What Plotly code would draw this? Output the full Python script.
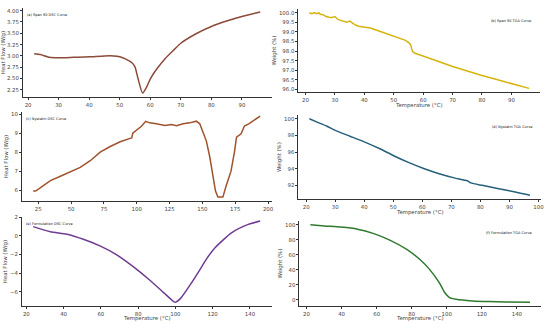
import plotly.graph_objects as go

# (a) Span 80 DSC
a_x = [22, 24, 27, 30, 35, 40, 45, 48, 50, 52, 54, 55, 56, 57.5, 59, 60, 62, 65, 68, 70, 75, 80, 85, 90, 96]
a_y = [3.05, 3.03, 2.97, 2.96, 2.97, 2.98, 3.00, 3.00, 2.98, 2.93, 2.85, 2.76, 2.50, 2.18, 2.34, 2.49, 2.70, 2.95, 3.15, 3.28, 3.49, 3.65, 3.77, 3.87, 3.97]

# (b) Span 80 TGA
b_x = [21.3, 22, 23, 24, 24.5, 25, 26, 27, 28, 29, 30, 31, 32, 33, 34, 35, 36, 37, 38, 40, 42, 44, 46, 48, 50, 52, 54, 55.3, 55.8, 56.3, 57, 58, 60, 62, 65, 70, 75, 80, 85, 90, 96.0]
b_y = [100.0, 99.95, 100.0, 99.95, 100.0, 99.92, 99.9, 99.8, 99.76, 99.75, 99.8, 99.65, 99.6, 99.55, 99.5, 99.56, 99.45, 99.36, 99.3, 99.26, 99.2, 99.1, 99.0, 98.9, 98.8, 98.7, 98.56, 98.42, 98.3, 98.0, 97.9, 97.85, 97.75, 97.65, 97.47, 97.2, 96.95, 96.73, 96.52, 96.31, 96.06]

# (c) Nystatin DSC
c_x = [21.2, 23, 26.8, 34.3, 41.9, 49.5, 57, 64.6, 72.2, 79.8, 87.4, 95, 96.2, 97, 100, 103.8, 106.8, 110, 115, 121.5, 126.5, 130.3, 135.3, 140.4, 145.4, 148, 150.5, 153, 155.5, 158, 160, 161.8, 165.6, 168, 171.8, 174.4, 176, 179.5, 182, 185.3, 188.3, 194]
c_y = [5.95, 5.95, 6.13, 6.5, 6.73, 6.95, 7.2, 7.55, 8.0, 8.3, 8.55, 8.73, 8.75, 9.0, 9.15, 9.38, 9.63, 9.55, 9.5, 9.41, 9.46, 9.4, 9.5, 9.55, 9.64, 9.5, 9.05, 8.6, 7.8, 6.75, 5.95, 5.63, 5.63, 6.2, 7.0, 8.0, 8.8, 8.97, 9.38, 9.5, 9.63, 9.91]

# (d) Nystatin TGA
d_x = [21.1, 23.75, 27.2, 30, 35.1, 40.2, 45.4, 50.5, 55.6, 60.7, 65.8, 71, 75.5, 76.7, 80.6, 86.3, 92, 97.1]
d_y = [100.0, 99.6, 99.1, 98.6, 97.9, 97.2, 96.4, 95.5, 94.7, 94.0, 93.4, 92.9, 92.55, 92.3, 92.0, 91.6, 91.2, 90.8]

# (e) Formulation DSC
e_x = [23.7, 32.9, 41.8, 50.6, 59.5, 68.3, 77.2, 86, 94.9, 99.3, 100.2, 102.8, 108.1, 112.6, 117, 121.4, 130.3, 139.1, 145.5]
e_y = [1.0, 0.46, 0.18, -0.36, -1.07, -2.0, -3.27, -4.7, -6.3, -7.07, -7.1, -6.7, -5.2, -3.8, -2.38, -1.24, 0.36, 1.24, 1.6]

# (f) Formulation TGA
f_x = [22.2, 30.3, 39.7, 49.1, 58.4, 67.8, 77.2, 84.7, 90.3, 95.9, 98.7, 101.6, 105.3, 114.7, 124, 133.4, 147.5]
f_y = [100.0, 98.5, 97.0, 94.2, 88.3, 79.4, 67.3, 53.8, 40.4, 22.4, 10.3, 3.1, 0.9, -1.3, -2.2, -2.7, -3.1]

titles = ["(a) Span 80 DSC Curve", "(b) Span 80 TGA Curve", "(c) Nystatin DSC Curve",
          "(d) Nystatin TGA Curve", "(e) Formulation DSC Curve", "(f) Formulation TGA Curve"]
y_titles = ["Heat Flow (W/g)", "Weight (%)", "Heat Flow (W/g)", "Weight (%)", "Heat Flow (W/g)", "Weight (%)"]
x_title = "Temperature (°C)"

series = [(a_x, a_y), (b_x, b_y), (c_x, c_y), (d_x, d_y), (e_x, e_y), (f_x, f_y)]
colors = ["#8b4a3a", "#d6b40c", "#a0522d", "#25607c", "#6f3b93", "#2f7a2f"]
shapes = ["spline", "linear", "linear", "spline", "spline", "spline"]

W, H = 550, 324
# pixel boxes (x0, x1, ytop, ybottom)
boxes = [(23, 273, 5, 95), (300, 543, 6, 90), (22, 273, 110, 200),
         (300, 544, 113, 198), (22, 273, 216, 306), (301, 544, 220, 306)]
xdtick = [10, 10, 25, 10, 20, 20]
ydtick = [0.25, 0.5, 1, 2, 2, 20]
yfmt = [".2f", ".1f", "d", "d", "d", "d"]
xtitle_y = [None, 103, None, 211, 318, 318]

fig = go.Figure()
font_col = "#444444"
FS = 5.4
for i, ((xs, ys), col) in enumerate(zip(series, colors)):
    n = "" if i == 0 else str(i + 1)
    fig.add_trace(go.Scatter(x=xs, y=ys, mode="lines",
                             line=dict(color=col, width=1.5, shape=shapes[i], smoothing=0.6),
                             xaxis="x" + n, yaxis="y" + n, showlegend=False))
    x0, x1, yt, yb = boxes[i]
    xmin, xmax = min(xs), max(xs)
    ymin, ymax = min(ys), max(ys)
    xm = (xmax - xmin) * 0.05
    ym = (ymax - ymin) * 0.05
    ax = dict(domain=[x0 / W, x1 / W], anchor="y" + n, range=[xmin - xm, xmax + xm],
              dtick=xdtick[i], tick0=0, showgrid=False, zeroline=False,
              showline=True, linecolor="#333333", linewidth=0.8,
              ticks="outside", ticklen=2, tickwidth=0.6, tickcolor="#333333",
              ticklabeloverflow="allow",
              tickfont=dict(size=FS, color=font_col, family="DejaVu Sans"))
    ay = dict(domain=[1 - yb / H, 1 - yt / H], anchor="x" + n, range=[ymin - ym, ymax + ym],
              dtick=ydtick[i], tick0=0, tickformat=yfmt[i], showgrid=False, zeroline=False,
              showline=True, linecolor="#333333", linewidth=0.8,
              ticks="outside", ticklen=2, tickwidth=0.6, tickcolor="#333333",
              ticklabeloverflow="allow",
              tickfont=dict(size=FS, color=font_col, family="DejaVu Sans"),
              title=dict(text=y_titles[i], font=dict(size=FS, color=font_col, family="DejaVu Sans"), standoff=2))
    fig.layout["xaxis" + n] = ax
    fig.layout["yaxis" + n] = ay
    if xtitle_y[i] is not None:
        fig.add_annotation(text=x_title, xref="x" + n + " domain", yref="paper",
                           x=0.5, y=1 - xtitle_y[i] / H, xanchor="center", yanchor="middle",
                           showarrow=False,
                           font=dict(size=FS, color=font_col, family="DejaVu Sans"))
    if i % 2 == 0:
        fig.add_annotation(text=titles[i], xref="x" + n + " domain", yref="y" + n + " domain",
                           x=0.01, y=0.97, xanchor="left", yanchor="top", showarrow=False,
                           font=dict(size=3.5, color="#111111", family="DejaVu Sans"))
    else:
        fig.add_annotation(text=titles[i], xref="x" + n + " domain", yref="y" + n + " domain",
                           x=0.97, y=0.9, xanchor="right", yanchor="top", showarrow=False,
                           font=dict(size=3.5, color="#111111", family="DejaVu Sans"))

fig.update_layout(width=W, height=H, margin=dict(l=0, r=0, t=0, b=0),
                  plot_bgcolor="white", paper_bgcolor="white")
fig.write_html("out.html", config={"displayModeBar": False},
               post_script="document.body.style.margin='0';document.body.style.overflow='hidden';")
